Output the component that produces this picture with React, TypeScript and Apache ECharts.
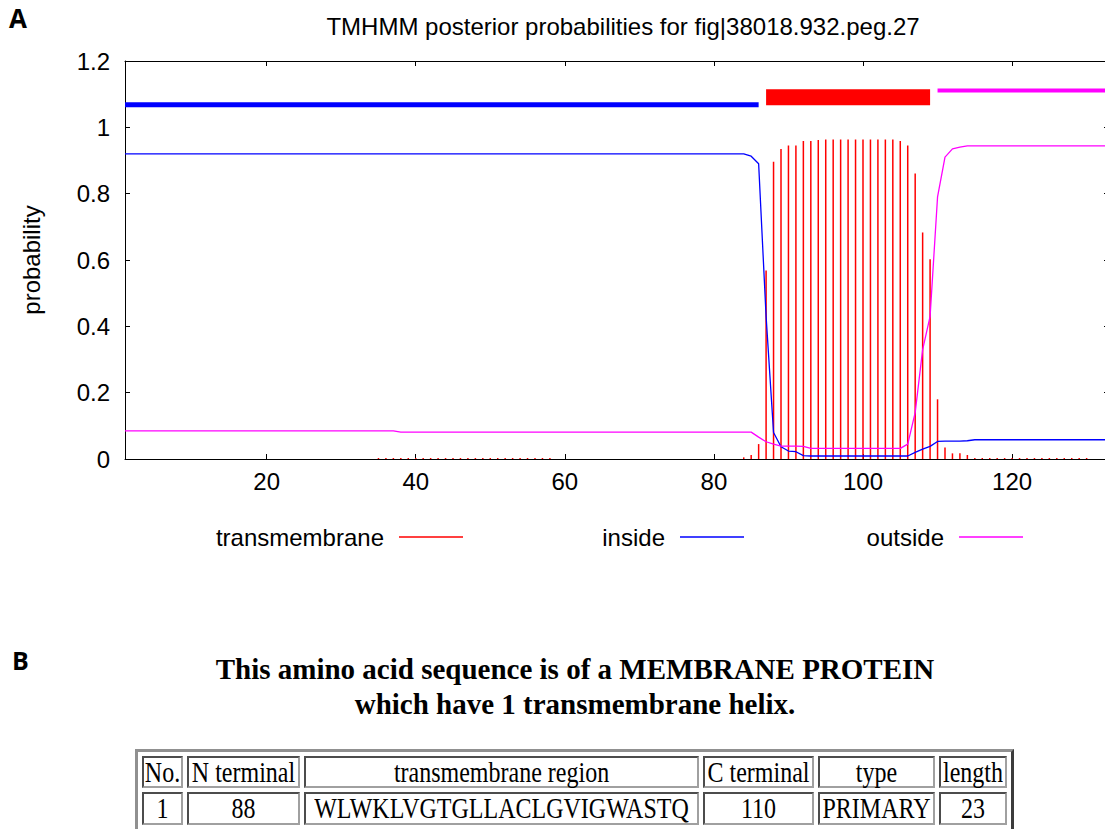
import React, { useEffect, useRef } from "react";
import * as echarts from "echarts";

// ---------- data ----------
const titleText = "TMHMM posterior probabilities for fig|38018.932.peg.27";
const seqLength = 133;
const xTickValues = [20, 40, 60, 80, 100, 120];

// posterior probability per residue (1..133)
const transmembrane = [
  0, 0, 0, 0, 0, 0, 0, 0, 0, 0,
  0, 0, 0, 0, 0, 0, 0, 0, 0, 0,
  0, 0, 0, 0, 0, 0, 0, 0, 0, 0,
  0, 0, 0, 0, 0.003, 0.003, 0.003, 0.003, 0.003, 0.003,
  0.003, 0.003, 0.003, 0.003, 0.003, 0.003, 0.003, 0.003, 0.003, 0.003,
  0.003, 0.003, 0.003, 0.003, 0.003, 0.003, 0.003, 0.003, 0, 0,
  0, 0, 0, 0, 0, 0, 0, 0, 0, 0,
  0, 0, 0, 0, 0, 0, 0, 0, 0, 0,
  0, 0, 0, 0.005, 0.012, 0.045, 0.568, 0.896, 0.935, 0.945,
  0.945, 0.959, 0.959, 0.962, 0.963, 0.963, 0.963, 0.963, 0.963, 0.963,
  0.963, 0.963, 0.963, 0.963, 0.959, 0.945, 0.861, 0.683, 0.602, 0.18,
  0.035, 0.017, 0.017, 0.012, 0.003, 0.003, 0.003, 0.003, 0.003, 0.003,
  0.003, 0.003, 0.003, 0.003, 0.003, 0.003, 0.003, 0.003, 0.003, 0.003,
  0, 0, 0,
];

const inside = [
  0.92, 0.92, 0.92, 0.92, 0.92, 0.92, 0.92, 0.92, 0.92, 0.92,
  0.92, 0.92, 0.92, 0.92, 0.92, 0.92, 0.92, 0.92, 0.92, 0.92,
  0.92, 0.92, 0.92, 0.92, 0.92, 0.92, 0.92, 0.92, 0.92, 0.92,
  0.92, 0.92, 0.92, 0.92, 0.92, 0.92, 0.92, 0.92, 0.92, 0.92,
  0.92, 0.92, 0.92, 0.92, 0.92, 0.92, 0.92, 0.92, 0.92, 0.92,
  0.92, 0.92, 0.92, 0.92, 0.92, 0.92, 0.92, 0.92, 0.92, 0.92,
  0.92, 0.92, 0.92, 0.92, 0.92, 0.92, 0.92, 0.92, 0.92, 0.92,
  0.92, 0.92, 0.92, 0.92, 0.92, 0.92, 0.92, 0.92, 0.92, 0.92,
  0.92, 0.92, 0.92, 0.92, 0.913, 0.89, 0.43, 0.08, 0.037, 0.024,
  0.022, 0.01, 0.009, 0.009, 0.009, 0.009, 0.009, 0.009, 0.009, 0.009,
  0.009, 0.009, 0.009, 0.009, 0.009, 0.009, 0.02, 0.03, 0.038, 0.053,
  0.054, 0.054, 0.054, 0.055, 0.058, 0.058, 0.058, 0.058, 0.058, 0.058,
  0.058, 0.058, 0.058, 0.058, 0.058, 0.058, 0.058, 0.058, 0.058, 0.058,
  0.058, 0.058, 0.058,
];

const outside = [
  0.085, 0.085, 0.085, 0.085, 0.085, 0.085, 0.085, 0.085, 0.085, 0.085,
  0.085, 0.085, 0.085, 0.085, 0.085, 0.085, 0.085, 0.085, 0.085, 0.085,
  0.085, 0.085, 0.085, 0.085, 0.085, 0.085, 0.085, 0.085, 0.085, 0.085,
  0.085, 0.085, 0.085, 0.085, 0.085, 0.085, 0.085, 0.081, 0.081, 0.081,
  0.081, 0.081, 0.081, 0.081, 0.081, 0.081, 0.081, 0.081, 0.081, 0.081,
  0.081, 0.081, 0.081, 0.081, 0.081, 0.081, 0.081, 0.081, 0.081, 0.081,
  0.081, 0.081, 0.081, 0.081, 0.081, 0.081, 0.081, 0.081, 0.081, 0.081,
  0.081, 0.081, 0.081, 0.081, 0.081, 0.081, 0.081, 0.081, 0.081, 0.081,
  0.081, 0.081, 0.081, 0.081, 0.081, 0.066, 0.052, 0.045, 0.039, 0.039,
  0.039, 0.038, 0.032, 0.032, 0.032, 0.032, 0.032, 0.032, 0.032, 0.032,
  0.032, 0.032, 0.032, 0.032, 0.032, 0.045, 0.14, 0.33, 0.43, 0.79,
  0.91, 0.935, 0.94, 0.944, 0.944, 0.944, 0.944, 0.944, 0.944, 0.944,
  0.944, 0.944, 0.944, 0.944, 0.944, 0.944, 0.944, 0.944, 0.944, 0.944,
  0.944, 0.944, 0.944,
];

// predicted topology (drawn above the curves)
const topoNames = ["inside region", "TMhelix region", "outside region"];
const topoStart = [1, 87, 110];
const topoEnd = [86, 109, 133];
const topoLevel = [1.068, 1.091, 1.111];

// table (part B)
const tableHeader = ["No.", "N terminal", "transmembrane region", "C terminal", "type", "length"];
const tableRow = ["1", "88", "WLWKLVGTGLLACLGVIGWASTQ", "110", "PRIMARY", "23"];

// ---------- styles ----------
const SANS = '"Liberation Sans", Arial, Helvetica, sans-serif';
const SERIF = '"Liberation Serif", "Times New Roman", serif';
const RED = "#ff0000";
const BLUE = "#0000ff";
const MAGENTA = "#ff00ff";
const topoColors = [BLUE, RED, MAGENTA];
const topoWidths = [5, 16, 4];
const colWidths = [41, 113, 395, 111, 117, 68];

const CHART_W = 1115;
const CHART_H = 600;

export default function App() {
  const ref = useRef<HTMLDivElement>(null);

  useEffect(() => {
    if (!ref.current) return;
    const chart = echarts.init(ref.current, null, { renderer: "svg" });
    const residues = transmembrane.map((_, i) => i + 1);

    const axisCommon = {
      type: "value" as const,
      axisLine: { show: true, onZero: false, lineStyle: { color: "#000", width: 1 } },
      splitLine: { show: false },
    };

    const topoSeries = topoNames.map((name, i) => ({
      name,
      type: "line",
      silent: true,
      showSymbol: false,
      symbol: "none",
      data: [
        [topoStart[i], topoLevel[i]],
        [topoEnd[i], topoLevel[i]],
      ],
      lineStyle: { color: topoColors[i], width: topoWidths[i], cap: "butt" },
      itemStyle: { color: topoColors[i] },
      z: 5,
    }));

    const legendCommon = {
      top: 525,
      padding: 0,
      align: "right",
      itemWidth: 64,
      itemHeight: 1.5,
      selectedMode: false,
      textStyle: { fontFamily: SANS, fontSize: 24, color: "#000", padding: [0, 10, 0, 0] },
    };

    chart.setOption({
      animation: false,
      backgroundColor: "#fff",
      title: {
        text: titleText,
        left: 618,
        textAlign: "center",
        top: 9,
        textStyle: { fontFamily: SANS, fontSize: 24, fontWeight: "normal", color: "#000" },
      },
      graphic: [
        {
          type: "text",
          left: 9,
          top: 5,
          style: { text: "A", font: 'bold 26px "Open Sans", sans-serif', fill: "#000" },
        },
      ],
      legend: [
        { ...legendCommon, right: CHART_W - 463, data: [{ name: "transmembrane", icon: "rect" }] },
        { ...legendCommon, right: CHART_W - 744, data: [{ name: "inside", icon: "rect" }] },
        { ...legendCommon, right: CHART_W - 1023, data: [{ name: "outside", icon: "rect" }] },
      ],
      grid: { left: 125, top: 61, width: 984, height: 398 },
      xAxis: [
        {
          ...axisCommon,
          position: "bottom",
          min: 1,
          max: seqLength,
          axisTick: { show: true, inside: true, length: 5, customValues: xTickValues, lineStyle: { color: "#000" } },
          axisLabel: { customValues: xTickValues, margin: 10, fontFamily: SANS, fontSize: 24, color: "#000" },
        },
        {
          ...axisCommon,
          position: "top",
          min: 1,
          max: seqLength,
          axisTick: { show: true, inside: true, length: 5, customValues: xTickValues, lineStyle: { color: "#000" } },
          axisLabel: { show: false },
        },
      ],
      yAxis: [
        {
          ...axisCommon,
          position: "left",
          min: 0,
          max: 1.2,
          interval: 0.2,
          name: "probability",
          nameLocation: "middle",
          nameRotate: 90,
          nameGap: 82,
          nameTextStyle: { fontFamily: SANS, fontSize: 24, color: "#000" },
          axisTick: { show: true, inside: true, length: 5, lineStyle: { color: "#000" } },
          axisLabel: { margin: 15, fontFamily: SANS, fontSize: 24, color: "#000" },
        },
        {
          ...axisCommon,
          position: "right",
          min: 0,
          max: 1.2,
          interval: 0.2,
          axisTick: { show: true, inside: true, length: 5, lineStyle: { color: "#000" } },
          axisLabel: { show: false },
        },
      ],
      series: [
        {
          name: "transmembrane",
          type: "bar",
          barWidth: 1.5,
          data: residues.map((r, i) => [r, transmembrane[i]]),
          itemStyle: { color: RED },
          color: RED,
          z: 2,
        },
        {
          name: "inside",
          type: "line",
          showSymbol: false,
          symbol: "none",
          data: residues.map((r, i) => [r, inside[i]]),
          lineStyle: { color: BLUE, width: 1.3 },
          itemStyle: { color: BLUE },
          color: BLUE,
          z: 3,
        },
        {
          name: "outside",
          type: "line",
          showSymbol: false,
          symbol: "none",
          data: residues.map((r, i) => [r, outside[i]]),
          lineStyle: { color: MAGENTA, width: 1.3 },
          itemStyle: { color: MAGENTA },
          color: MAGENTA,
          z: 3,
        },
        ...topoSeries,
      ],
    });

    return () => chart.dispose();
  }, []);

  const cellStyle: React.CSSProperties = {
    boxSizing: "border-box",
    borderWidth: 2,
    borderStyle: "inset",
    borderColor: "#a0a0a0",
    padding: 0,
    textAlign: "center",
    whiteSpace: "nowrap",
    overflow: "visible",
    fontFamily: SERIF,
    fontSize: 24,
    color: "#000",
  };
  const spanStyle: React.CSSProperties = { display: "inline-block", transform: "scaleY(1.22)" };

  return (
    <div
      style={{
        position: "absolute",
        left: 0,
        top: 0,
        width: 1105,
        height: 829,
        overflow: "hidden",
        background: "#fff",
      }}
    >
      <div ref={ref} style={{ position: "absolute", left: 0, top: 0, width: CHART_W, height: CHART_H }} />
      <div
        style={{
          position: "absolute",
          left: 12,
          top: 648,
          fontFamily: '"Open Sans", sans-serif',
          fontWeight: "bold",
          fontSize: 25,
          lineHeight: "25px",
          color: "#000",
        }}
      >
        B
      </div>
      <div
        style={{
          position: "absolute",
          left: 0,
          top: 652,
          width: 1150,
          textAlign: "center",
          fontFamily: SERIF,
          fontWeight: "bold",
          fontSize: 29,
          lineHeight: "35px",
          color: "#000",
        }}
      >
        This amino acid sequence is of a MEMBRANE PROTEIN
        <br />
        which have 1 transmembrane helix.
      </div>
      <table
        style={{
          position: "absolute",
          left: 135,
          top: 749,
          borderCollapse: "separate",
          borderSpacing: 4,
          borderWidth: 3,
          borderStyle: "outset",
          borderColor: "#909090",
          tableLayout: "fixed",
        }}
      >
        <colgroup>
          {colWidths.map((w, i) => (
            <col key={i} style={{ width: w }} />
          ))}
        </colgroup>
        <tbody>
          <tr style={{ height: 32 }}>
            {tableHeader.map((t, i) => (
              <td key={i} style={cellStyle}>
                <span style={spanStyle}>{t}</span>
              </td>
            ))}
          </tr>
          <tr style={{ height: 33 }}>
            {tableRow.map((t, i) => (
              <td key={i} style={cellStyle}>
                <span style={spanStyle}>{t}</span>
              </td>
            ))}
          </tr>
        </tbody>
      </table>
    </div>
  );
}
